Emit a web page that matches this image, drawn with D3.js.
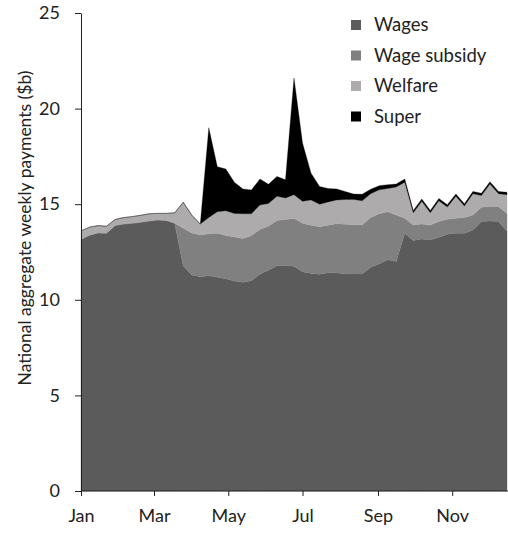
<!DOCTYPE html>
<html>
<head>
<meta charset="utf-8">
<script src="https://cdn.jsdelivr.net/npm/d3@7"></script>
<style>
  body { margin: 0; background: #fff; }
  svg { display: block; font-family: Lato, "Open Sans", sans-serif; }
</style>
</head>
<body>
<div id="chart"></div>
<script>
// weekly data, 2020, starting Jan 1
var wages = [13.16, 13.38, 13.5, 13.48, 13.88, 13.96, 14.0, 14.05, 14.12, 14.17, 14.15, 14.0,
  11.77, 11.3, 11.21, 11.26, 11.18, 11.1, 10.98, 10.92, 11.0, 11.35, 11.55, 11.78, 11.8, 11.75,
  11.47, 11.38, 11.33, 11.42, 11.42, 11.35, 11.35, 11.35, 11.7, 11.88, 12.1, 12.0,
  13.48, 13.1, 13.18, 13.13, 13.27, 13.43, 13.48, 13.48, 13.65, 14.09, 14.12, 14.09, 13.6]
var subsidy = [0, 0, 0, 0, 0, 0, 0, 0, 0, 0, 0, 0,
  1.97, 2.2, 2.18, 2.19, 2.3, 2.26, 2.3, 2.29, 2.35, 2.33, 2.3, 2.37, 2.4, 2.5,
  2.53, 2.52, 2.49, 2.48, 2.56, 2.6, 2.57, 2.56, 2.6, 2.62, 2.5, 2.43,
  0.78, 0.81, 0.78, 0.78, 0.82, 0.78, 0.78, 0.82, 0.78, 0.75, 0.76, 0.79, 0.92]
var welfare = [0.44, 0.42, 0.38, 0.37, 0.32, 0.34, 0.35, 0.37, 0.38, 0.35, 0.37, 0.55,
  1.36, 0.93, 0.57, 0.85, 1.13, 1.3, 1.24, 1.29, 1.15, 1.28, 1.19, 1.27, 1.13, 1.25,
  1.15, 1.32, 1.18, 1.22, 1.24, 1.3, 1.33, 1.27, 1.25, 1.25, 1.22, 1.47,
  1.89, 0.64, 1.19, 0.64, 1.09, 0.64, 1.16, 0.6, 1.12, 0.61, 1.17, 0.67, 0.98]
var superann = [0, 0, 0, 0, 0, 0, 0, 0, 0, 0, 0, 0,
  0, 0, 0, 4.7, 2.35, 2.18, 1.63, 1.3, 1.24, 1.36, 1.0, 1.03, 0.95, 6.1,
  3.05, 1.4, 0.93, 0.7, 0.58, 0.41, 0.28, 0.34, 0.23, 0.22, 0.2, 0.15,
  0.17, 0.12, 0.12, 0.12, 0.12, 0.12, 0.12, 0.12, 0.12, 0.12, 0.12, 0.12, 0.12]

var seriesNames = ['Wages', 'Wage subsidy', 'Welfare', 'Super']
var seriesColors = ['#5b5b5b', '#808080', '#adabab', '#000000']
var yTicks = [0, 5, 10, 15, 20, 25]
var xTickMonths = ['2020-01-01', '2020-03-01', '2020-05-01', '2020-07-01', '2020-09-01', '2020-11-01']

var parse = d3.timeParse('%Y-%m-%d')
var start = parse('2020-01-01')
var rows = wages.map(function (w, i) {
  return {
    date: d3.timeDay.offset(start, 7 * i),
    'Wages': w,
    'Wage subsidy': subsidy[i],
    'Welfare': welfare[i],
    'Super': superann[i]
  }
})

var width = 508
var height = 533
var margin = { top: 13, left: 81, bottom: 42 }

var svg = d3.select('#chart').append('svg')
  .attr('width', width)
  .attr('height', height)

var x = d3.scaleTime()
  .domain([start, rows[rows.length - 1].date])
  .range([margin.left, 507])

var y = d3.scaleLinear()
  .domain([0, 25])
  .range([height - margin.bottom, margin.top])

var stack = d3.stack().keys(seriesNames)
var layers = stack(rows)

var area = d3.area()
  .x(function (d) { return x(d.data.date) })
  .y0(function (d) { return y(d[0]) })
  .y1(function (d) { return y(d[1]) })

svg.append('g').selectAll('path')
  .data(layers)
  .join('path')
  .attr('d', area)
  .attr('fill', function (d, i) { return seriesColors[i] })
  .attr('stroke', function (d, i) { return seriesColors[i] })
  .attr('stroke-width', 0.3)

// axes
var xAxis = d3.axisBottom(x)
  .tickValues(xTickMonths.map(parse))
  .tickFormat(d3.timeFormat('%b'))
  .tickSize(5)
  .tickSizeOuter(0)

var yAxis = d3.axisLeft(y)
  .tickValues(yTicks)
  .tickSize(6)
  .tickSizeOuter(0)

var gx = svg.append('g')
  .attr('transform', 'translate(0,' + y(0) + ')')
  .call(xAxis)
gx.select('.domain').attr('d', 'M' + margin.left + ',0H' + width)

var gy = svg.append('g')
  .attr('transform', 'translate(' + margin.left + ',0)')
  .call(yAxis)

svg.selectAll('.domain, .tick line').attr('stroke', '#222')
svg.selectAll('.tick text')
  .attr('fill', '#222')
  .style('font-size', '18px')
  .style('font-family', 'Lato, "Open Sans", sans-serif')
gx.selectAll('.tick text').attr('dy', '1.3em')
gy.selectAll('.tick text').attr('x', -21)

svg.append('text')
  .attr('transform', 'translate(31,' + 228 + ') rotate(-90)')
  .attr('text-anchor', 'middle')
  .attr('fill', '#222')
  .style('font-size', '17.5px')
  .text('National aggregate weekly payments ($b)')

// legend
var legend = svg.append('g')
  .selectAll('g')
  .data(seriesNames)
  .join('g')
  .attr('transform', function (d, i) { return 'translate(351,' + (20 + i * 30.5) + ')' })

legend.append('rect')
  .attr('width', 10)
  .attr('height', 10)
  .attr('fill', function (d, i) { return seriesColors[i] })

legend.append('text')
  .attr('x', 23)
  .attr('y', 11)
  .attr('fill', '#222')
  .style('font-size', '18.5px')
  .text(function (d) { return d })
</script>
</body>
</html>
